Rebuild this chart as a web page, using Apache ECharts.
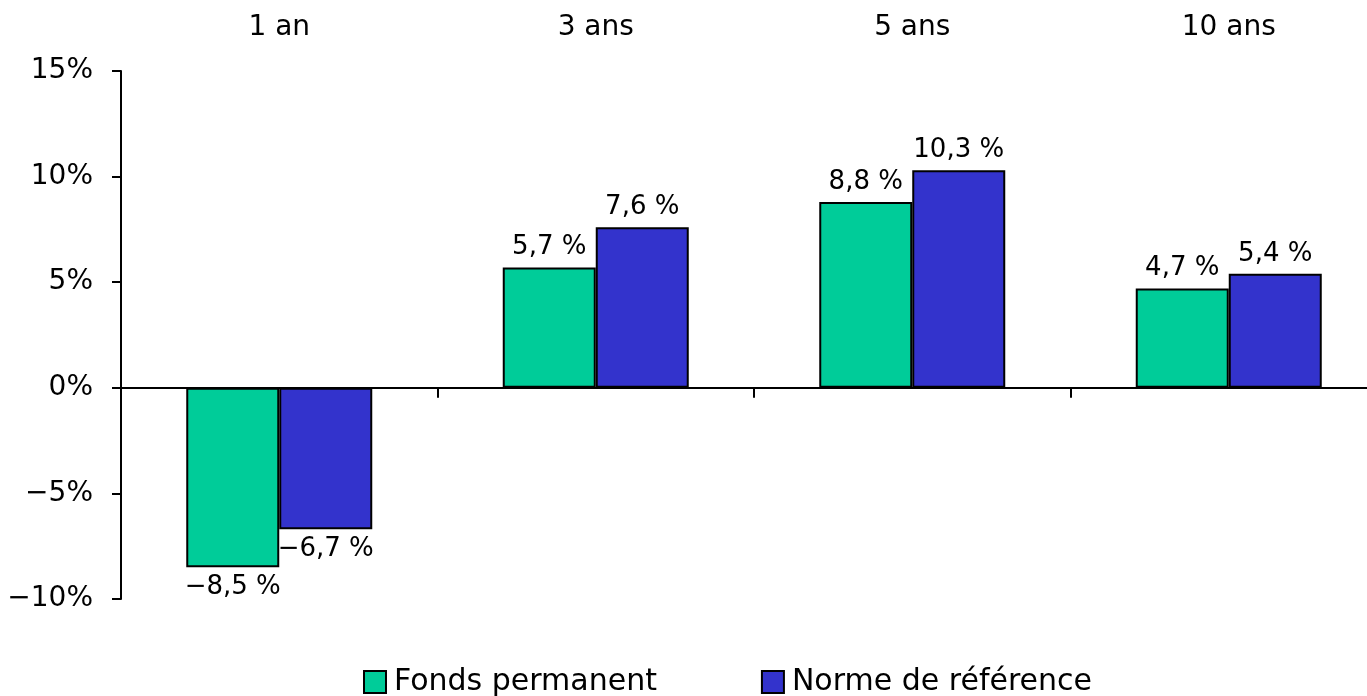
<!DOCTYPE html>
<html>
<head>
<meta charset="utf-8">
<script src="https://cdn.jsdelivr.net/npm/echarts@6/dist/echarts.min.js"></script>
<style>
  html, body { margin: 0; padding: 0; background: #fff; }
  #chart { width: 1367px; height: 696px; }
</style>
</head>
<body>
<div id="chart"></div>
<script>
const categories = ['1 an', '3 ans', '5 ans', '10 ans']
const fondsPermanent = [-8.5, 5.7, 8.8, 4.7]
const normeReference = [-6.7, 7.6, 10.3, 5.4]
const yTicks = { min: -10, max: 15, interval: 5 }

const FONT = '"DejaVu Sans", Arial, sans-serif'

function fmtPct(v, sep) {
  let s = String(Math.abs(v)).replace('.', ',')
  return (v < 0 ? '\u2212' : '') + s + sep + '%'
}

function barSeries(name, data, color) {
  return {
    name: name,
    type: 'bar',
    data: data,
    barWidth: 93,
    barGap: '0%',
    itemStyle: { color: color, borderColor: '#000', borderWidth: 2 },
    label: {
      show: true,
      position: 'outside',
      distance: 7,
      color: '#000',
      fontFamily: FONT,
      fontSize: 26,
      formatter: p => fmtPct(p.value, ' ')
    }
  }
}

const chart = echarts.init(document.getElementById('chart'))

chart.setOption({
  animation: false,
  textStyle: { fontFamily: FONT },
  // plot runs past the right edge, like the source picture
  grid: { left: 121, width: 1266, top: 71, bottom: 97, outerBoundsMode: 'none' },
  legend: {
    bottom: -6,
    left: 358,
    itemGap: 104,
    itemWidth: 22,
    itemHeight: 22,
    icon: 'rect',
    textStyle: { fontSize: 30, color: '#000', fontFamily: FONT, padding: [0, 0, 0, 3] },
    data: ['Fonds permanent', 'Norme de référence']
  },
  xAxis: [
    {
      type: 'category',
      data: categories,
      position: 'bottom',
      axisLine: { onZero: true, lineStyle: { color: '#000', width: 2 } },
      axisTick: { show: true, length: 10, lineStyle: { color: '#000', width: 2 } },
      axisLabel: { show: false }
    },
    {
      type: 'category',
      data: categories,
      position: 'top',
      axisLine: { show: false },
      axisTick: { show: false },
      axisLabel: { color: '#000', fontSize: 28, fontFamily: FONT, margin: 29 }
    }
  ],
  yAxis: {
    type: 'value',
    min: yTicks.min,
    max: yTicks.max,
    interval: yTicks.interval,
    axisLine: { show: true, lineStyle: { color: '#000', width: 2 } },
    axisTick: { show: true, length: 9, lineStyle: { color: '#000', width: 2 } },
    splitLine: { show: false },
    axisLabel: {
      color: '#000',
      fontSize: 28,
      fontFamily: FONT,
      margin: 28,
      formatter: v => fmtPct(v, '')
    }
  },
  series: [
    barSeries('Fonds permanent', fondsPermanent, '#00CC99'),
    barSeries('Norme de référence', normeReference, '#3333CC')
  ]
})
</script>
</body>
</html>
